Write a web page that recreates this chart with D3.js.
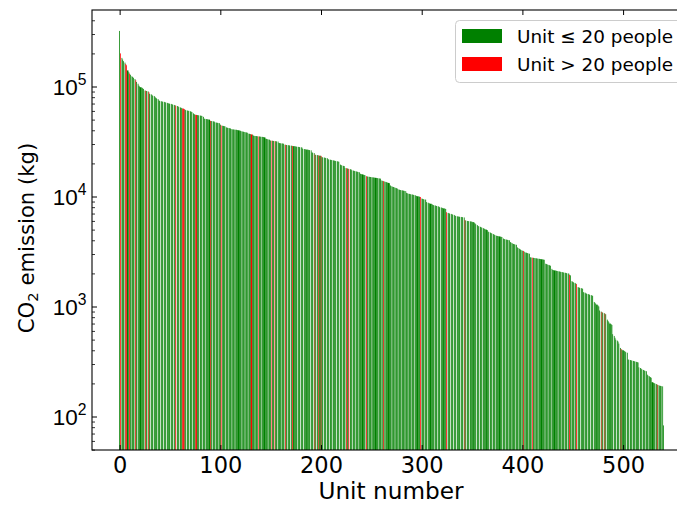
<!DOCTYPE html>
<html><head><meta charset="utf-8">
<script src="https://cdn.jsdelivr.net/npm/d3@7"></script>
<style>body{margin:0;background:#fff;}svg{display:block;}</style>
</head><body><div id="chart"></div>
<script>
// CO2 emission per unit (kg), sorted descending, index = unit number
const emissions = [
320000,200000,182000,176000,170000,165000,160000,156000,140000,135000,
131000,128000,124000,122000,120000,117000,114000,110000,106000,102000,
100000,98500,97500,96500,95000,92000,91500,91000,90500,89000,
86000,85000,84000,82500,82000,80500,79000,78000,77000,75000,
74000,73500,73000,72800,72500,72000,71500,71000,70500,70000,
69800,69500,69000,68500,68000,67500,67000,66500,66000,65000,
64500,64000,63500,63000,62500,61500,61000,60500,60200,60000,
59500,59000,58500,57000,56000,55500,55200,55000,54800,54600,
54400,54200,54000,53000,51000,50800,50600,50400,50200,50000,
48800,48600,48400,48200,48000,47200,47000,46800,46600,46400,
45000,44200,44000,43800,43600,43400,42500,42200,42000,41800,
41600,41000,40800,40700,40600,40500,40400,40200,40000,39800,
39600,39200,39000,38800,38600,38400,38200,38000,37300,37100,
36900,36700,36500,35800,35600,35500,35400,35300,35200,35100,
35000,34900,34800,34700,34500,33600,33400,33200,33000,32800,
32300,32200,32100,32000,31900,31800,31700,31600,30700,30600,
30500,30400,30300,30200,29600,29500,29400,29300,29200,29100,
29000,28900,28800,28700,28600,28500,28400,28300,28200,28100,
28000,27900,27200,27000,26900,26800,26700,26600,26500,26400,
26300,25200,25000,24800,24000,23900,23800,23700,23600,23500,
23400,22800,22700,22600,22500,22400,22300,21800,21700,21600,
21500,21400,21300,21200,21100,21000,20900,20800,20700,19500,
19300,19100,19000,18900,18200,18100,18000,17900,17800,17700,
17600,17300,17200,17100,17000,16900,16800,16700,16600,16100,
16000,15900,15800,15700,15600,15300,15200,15150,15100,15050,
15000,14950,14900,14850,14800,14750,14700,14650,14600,14550,
14000,13900,13800,13700,13600,13500,13400,13300,13200,12600,
12400,12300,12200,12100,12000,11900,11800,11600,11500,11450,
11400,11350,11300,11250,11200,10800,10700,10600,10550,10500,
10450,10400,10350,10300,10200,10100,10050,10000,9950,9900,
9600,9500,9450,9400,9350,8900,8800,8700,8650,8600,
8550,8400,8350,8300,8250,8200,8150,8100,8000,7950,
7900,7850,7800,7750,7700,7200,7100,7050,7000,6950,
6900,6850,6800,6700,6650,6600,6580,6560,6540,6520,
6500,6480,6450,6100,6050,6000,5980,5960,5940,5920,
5900,5850,5800,5700,5600,5500,5400,5350,5300,5250,
5200,5150,5100,5050,5000,4950,4800,4750,4700,4650,
4600,4550,4500,4450,4400,4380,4360,4340,4320,4300,
4280,4150,4100,4080,4060,4040,4020,4000,3850,3800,
3750,3700,3680,3660,3640,3450,3400,3350,3300,3250,
3220,3200,3150,3100,3080,3060,3040,3020,2800,2790,
2780,2770,2760,2750,2740,2730,2720,2710,2700,2690,
2680,2670,2660,2450,2430,2410,2390,2370,2350,2200,
2150,2140,2130,2120,2110,2100,2090,2080,2070,2060,
2050,2040,2030,2020,2010,2000,1990,1940,1920,1700,
1680,1660,1640,1620,1600,1500,1490,1480,1470,1460,
1450,1350,1340,1320,1310,1300,1290,1280,1270,1260,
1250,1100,1080,1060,1040,1020,1000,920,900,890,
880,870,860,850,760,740,720,700,690,680,
560,540,520,500,490,480,460,420,410,405,
400,395,390,385,380,330,328,326,324,322,
320,318,316,314,312,310,280,276,272,268,
265,262,260,258,240,235,232,228,225,205,
203,201,199,197,195,193,191,190,189,188,
83
];
// unit numbers with more than 20 people (red bars)
const largeUnits = [1,6,7,10,16,26,29,56,63,64,76,90,101,131,138,151,154,165,172,194,198,200,225,228,245,262,299,325,343,401,410,447,454,479,482,498,534];
const xTicks = [0,100,200,300,400,500];
const yTicks = [100,1000,10000,100000];
const seriesNames = ["Unit \u2264 20 people","Unit > 20 people"];
const seriesColors = ["#008000","#ff0000"];

const W = 677, H = 505;
const L = 92, R = 691, T = 10, B = 450;
const FONT = "'DejaVu Sans', sans-serif";
const svg = d3.select("#chart").append("svg").attr("width",W).attr("height",H)
  .style("font-family",FONT);

const n = emissions.length;
const x = d3.scaleLinear().domain([-0.4 - 0.05*(n-0.2), (n-1)+0.4 + 0.05*(n-0.2)]).range([L,R]);
const y = d3.scaleLog().domain([Math.pow(10,1.6955), Math.pow(10,5.6955)]).range([B,T]);

const largeSet = new Set(largeUnits);
const data = emissions.map((v,i)=>({i, v, big: largeSet.has(i)}));

// emulate the pixel-snapped rendering of the original raster
const K = 1.3;
const snapL = d => Math.round(K*x(d.i - 0.4))/K;
const snapR = d => Math.round(K*x(d.i + 0.4))/K;
const g = svg.append("g");
g.selectAll("rect.bar").data(data).join("rect")
  .attr("class","bar")
  .attr("x", d => snapL(d))
  .attr("width", d => Math.max(snapR(d) - snapL(d), 1/K))
  .attr("y", d => y(d.v))
  .attr("height", d => B - y(d.v))
  .attr("fill", d => d.big ? seriesColors[1] : seriesColors[0]);

// axes (ticks inward)
const xAxisB = d3.axisBottom(x).tickValues(xTicks).tickSize(-5).tickPadding(7).tickFormat(d3.format("d"));
const gx = svg.append("g").attr("transform",`translate(0,${B})`).call(xAxisB);
gx.select(".domain").remove();
gx.selectAll("text").attr("font-size",22.5).attr("fill","#000").attr("font-family",FONT).attr("dy","0.73em");
gx.selectAll("line").attr("stroke","#000").attr("stroke-width",1);

const xAxisT = d3.axisTop(x).tickValues(xTicks).tickSize(-5).tickFormat("");
const gxt = svg.append("g").attr("transform",`translate(0,${T})`).call(xAxisT);
gxt.select(".domain").remove();
gxt.selectAll("line").attr("stroke","#000");

// y minor ticks
const minor = [];
for (let e = 1; e <= 5; e++) for (let k = 2; k <= 9; k++) {
  const v = k*Math.pow(10,e);
  if (v >= y.domain()[0] && v <= y.domain()[1]) minor.push(v);
}
const yAxisMinor = d3.axisLeft(y).tickValues(minor).tickSize(-3).tickFormat("");
const gym = svg.append("g").attr("transform",`translate(${L},0)`).call(yAxisMinor);
gym.select(".domain").remove();
gym.selectAll("line").attr("stroke","#000").attr("stroke-width",0.8);

const yAxis = d3.axisLeft(y).tickValues(yTicks).tickSize(-5).tickFormat("");
const gy = svg.append("g").attr("transform",`translate(${L},0)`).call(yAxis);
gy.select(".domain").remove();
gy.selectAll("line").attr("stroke","#000").attr("stroke-width",1);
gy.selectAll(".tick").each(function(d){
  const t = d3.select(this).append("text")
    .attr("x",-5.5).attr("y",8.3).attr("text-anchor","end")
    .attr("fill","#000").attr("font-size",22.5);
  t.append("tspan").text("10");
  t.append("tspan").attr("font-size",15.7).attr("dy",-10).text(Math.round(Math.log10(d)));
});

// spines
svg.append("rect").attr("x",L).attr("y",T).attr("width",R-L).attr("height",B-T)
  .attr("fill","none").attr("stroke","#000").attr("stroke-width",1.1);

// axis labels
svg.append("text").attr("x",391).attr("y",499).attr("text-anchor","middle")
  .attr("font-size",23.2).attr("fill","#000").text("Unit number");
const yl = svg.append("text").attr("transform",`translate(34,238) rotate(-90)`)
  .attr("text-anchor","middle").attr("font-size",21.2).attr("fill","#000");
yl.append("tspan").text("CO");
yl.append("tspan").attr("font-size",14.8).attr("dy",4).text("2");
yl.append("tspan").attr("dy",-4).text(" emission (kg)");

// legend
const lg = svg.append("g");
lg.append("rect").attr("x",455.5).attr("y",20.5).attr("width",260).attr("height",62)
  .attr("rx",4).attr("fill","#fff").attr("fill-opacity",0.8).attr("stroke","#cccccc");
seriesNames.forEach((s,k)=>{
  lg.append("rect").attr("x",462).attr("y",29 + k*28).attr("width",40).attr("height",14)
    .attr("fill",seriesColors[k]);
  lg.append("text").attr("x",517).attr("y",36 + k*28).attr("dy","0.36em")
    .attr("font-size",18.4).attr("fill","#000").text(s);
});
</script>
</body></html>
